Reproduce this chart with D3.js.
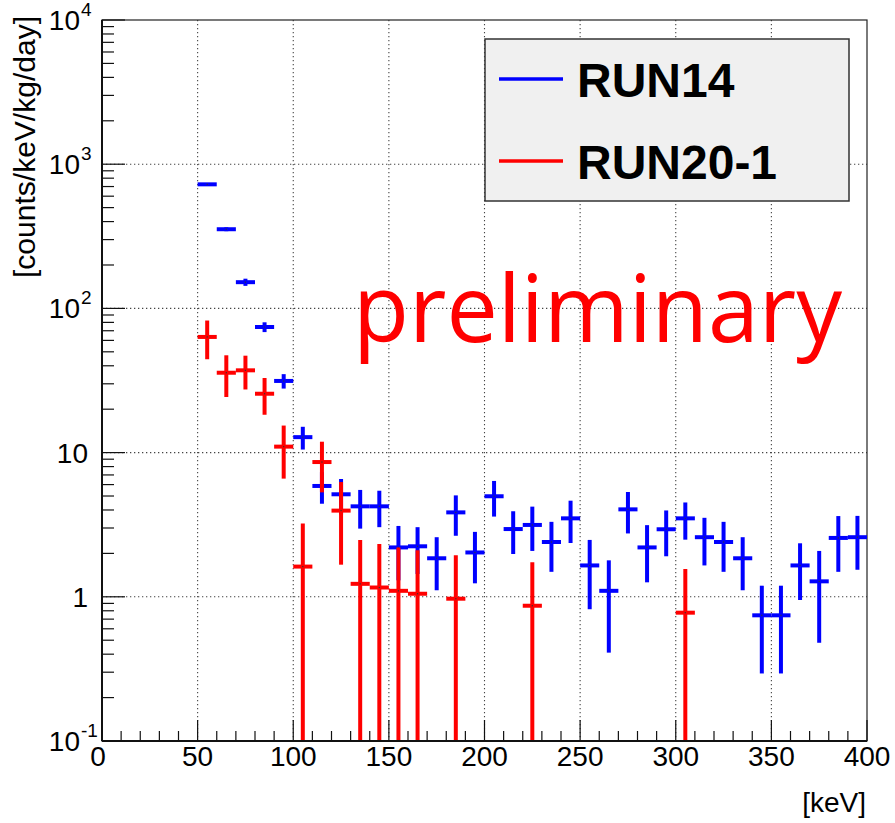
<!DOCTYPE html>
<html>
<head>
<meta charset="utf-8">
<script src="https://cdn.jsdelivr.net/npm/d3@7"></script>
<style>
html,body{margin:0;padding:0;background:#fff;}
svg{display:block;}
</style>
</head>
<body>
<svg id="c" width="895" height="823"></svg>
<script>
// ---- data ----
const binWidth = 10;
const run14Bins = [55,65,75,85,95,105,115,125,135,145,155,165,175,185,195,205,215,225,235,245,255,265,275,285,295,305,315,325,335,345,355,365,375,385,395];
const run14 = [725,354,152,74.3,31.4,12.8,5.87,5.14,4.24,4.24,2.20,2.24,1.85,3.85,2.03,4.98,2.95,3.15,2.40,3.50,1.65,1.10,4.04,2.20,2.94,3.50,2.59,2.40,1.85,0.744,0.744,1.65,1.28,2.56,2.59];
const run14Err = [8,11,8.7,5.8,3.6,2.3,1.45,1.42,1.27,1.2,0.9,0.8,0.74,1.2,0.79,1.38,0.97,1.07,0.91,1.14,0.83,0.69,1.29,0.94,1.03,1.01,0.94,0.91,0.74,0.45,0.45,0.7,0.8,1.07,1.05];
const run20Bins = [55,65,75,85,95,105,115,125,135,145,155,165,185,225,305];
const run20 = [63.4,35.8,37.2,25.6,11.0,1.62,8.6,3.96,1.23,1.16,1.10,1.05,0.97,0.867,0.776];
const run20Err = [19,11.5,9.8,7.3,4.4,1.6,3.3,2.29,1.25,1.16,1.1,1.05,0.97,0.87,0.78];
const xTicks = [0,50,100,150,200,250,300,350,400];
const yDecades = [0.1,1,10,100,1000,10000];
const yTickLabels = [["10","-1"],["1",""],["10",""],["10","2"],["10","3"],["10","4"]];
const seriesNames = ["RUN14","RUN20-1"];
const seriesColors = ["#0000ff","#ff0000"];

// ---- layout ----
const L = 102, R = 867, T = 20, B = 741;
const svg = d3.select("#c");
const x = d3.scaleLinear().domain([0,400]).range([L,R]);
const y = d3.scaleLog().domain([0.1,10000]).range([B,T]);
const font = "'Liberation Sans', Arial, Helvetica, sans-serif";

// grid
const grid = svg.append("g").attr("stroke","#444").attr("stroke-width",1.1).attr("stroke-dasharray","1.3,2.7");
xTicks.filter(t=>t>0&&t<400).forEach(t=>{
  grid.append("line").attr("x1",x(t)).attr("x2",x(t)).attr("y1",T).attr("y2",B);
});
yDecades.filter(v=>v>0.1&&v<10000).forEach(v=>{
  grid.append("line").attr("x1",L).attr("x2",R).attr("y1",y(v)).attr("y2",y(v));
});

// frame
svg.append("rect").attr("x",L).attr("y",T).attr("width",R-L).attr("height",B-T)
  .attr("fill","none").attr("stroke","#222").attr("stroke-width",1.2);

// data
svg.append("clipPath").attr("id","pc").append("rect")
  .attr("x",L).attr("y",T).attr("width",R-L).attr("height",B-T);
function drawSeries(bins, vals, errs, color){
  const g = svg.append("g").attr("clip-path","url(#pc)").attr("stroke",color).attr("stroke-width",4);
  bins.forEach((b,i)=>{
    const v = vals[i], e = errs[i];
    const lo = v - e;
    const yLo = lo > 0.1 ? y(lo) : B;
    g.append("line").attr("x1",x(b)).attr("x2",x(b)).attr("y1",y(v+e)).attr("y2",yLo);
    g.append("line").attr("x1",x(b-binWidth/2)).attr("x2",x(b+binWidth/2)).attr("y1",y(v)).attr("y2",y(v));
    svg.append("rect").attr("x",x(b)-0.6).attr("y",y(v)-0.6).attr("width",1.2).attr("height",1.2).attr("fill","#333");
  });
}
drawSeries(run14Bins, run14, run14Err, seriesColors[0]);
drawSeries(run20Bins, run20, run20Err, seriesColors[1]);

// axes lines
svg.append("line").attr("x1",L).attr("x2",L).attr("y1",T).attr("y2",B).attr("stroke","#111").attr("stroke-width",2);
svg.append("line").attr("x1",L).attr("x2",R).attr("y1",B).attr("y2",B).attr("stroke","#111").attr("stroke-width",2);

// x ticks
const ax = svg.append("g").attr("stroke","#111").attr("stroke-width",1.2);
d3.range(0,401,10).forEach(t=>{
  const major = t % 50 === 0;
  ax.append("line").attr("x1",x(t)).attr("x2",x(t)).attr("y1",B).attr("y2",B-(major?21:10));
});
xTicks.forEach(t=>{
  svg.append("text").attr("x",x(t) - (t===0?4:0)).attr("y",766).attr("text-anchor","middle")
    .attr("font-family",font).attr("font-size",28).attr("fill","#000").text(t);
});
// y ticks
yDecades.forEach((d,i)=>{
  ax.append("line").attr("x1",L).attr("x2",L+23).attr("y1",y(d)).attr("y2",y(d));
  if(d<10000){
    for(let k=2;k<=9;k++){
      ax.append("line").attr("x1",L).attr("x2",L+12).attr("y1",y(d*k)).attr("y2",y(d*k));
    }
  }
});
yDecades.forEach((d,i)=>{
  const [base, exp] = yTickLabels[i];
  const yy = y(d);
  if(exp){
    svg.append("text").attr("x",80).attr("y",yy+10).attr("text-anchor","end")
      .attr("font-family",font).attr("font-size",28).text(base);
    svg.append("text").attr("x",81).attr("y",yy-4).attr("text-anchor","start")
      .attr("font-family",font).attr("font-size",19).text(exp);
  } else {
    svg.append("text").attr("x",88).attr("y",yy+10).attr("text-anchor","end")
      .attr("font-family",font).attr("font-size",28).text(base);
  }
});

// axis titles
svg.append("text").attr("x",866).attr("y",812).attr("text-anchor","end")
  .attr("font-family",font).attr("font-size",28).text("[keV]");
svg.append("text").attr("transform","translate(35,16) rotate(-90)").attr("text-anchor","end")
  .attr("font-family",font).attr("font-size",29).attr("textLength",262).attr("lengthAdjust","spacingAndGlyphs")
  .text("[counts/keV/kg/day]");

// preliminary
svg.append("text").attr("x",353).attr("y",342).attr("font-family","'Open Sans', 'Noto Sans', sans-serif")
  .attr("font-size",93).attr("fill","#ff0000").attr("textLength",489).attr("lengthAdjust","spacingAndGlyphs")
  .text("preliminary");

// legend
const lg = svg.append("g");
lg.append("rect").attr("x",485).attr("y",39).attr("width",364).attr("height",162)
  .attr("fill","#f0f0f0").attr("stroke","#333").attr("stroke-width",1.5);
seriesNames.forEach((n,i)=>{
  const ly = [79,161][i];
  lg.append("line").attr("x1",499).attr("x2",563).attr("y1",ly).attr("y2",ly)
    .attr("stroke",seriesColors[i]).attr("stroke-width",3.5);
  lg.append("text").attr("x",577).attr("y",ly+18).attr("font-family",font).attr("font-weight","bold")
    .attr("font-size",48).attr("fill","#000").text(n);
});
</script>
</body>
</html>
